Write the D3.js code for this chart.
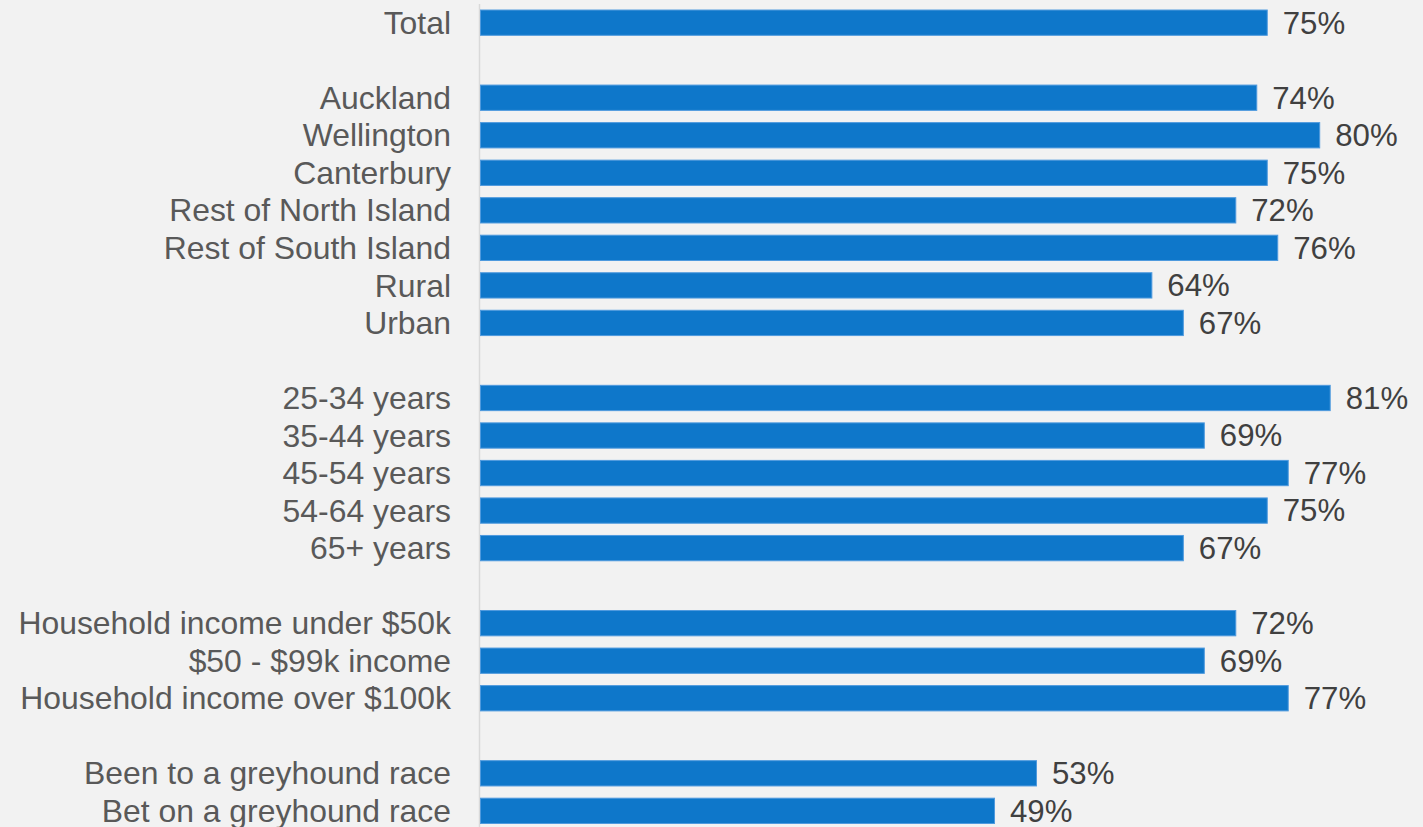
<!DOCTYPE html>
<html>
	<head>
		<title>Horizontal bars</title>
		<style>
			body, html {
				margin: 0;
				padding: 0;
				background: #f2f2f2;
			}
			svg text {
				font-family: "Liberation Sans", Arial, sans-serif;
			}
		</style>
	</head>
	<body>

		<svg id="svg" width="1423" height="827"></svg>

		<script src="https://d3js.org/d3.v7.min.js"></script>
		<script>
			// Row labels, empty string = spacer row between groups
			const labels = [
				'Total', '',
				'Auckland', 'Wellington', 'Canterbury', 'Rest of North Island', 'Rest of South Island', 'Rural', 'Urban', '',
				'25-34 years', '35-44 years', '45-54 years', '54-64 years', '65+ years', '',
				'Household income under $50k', '$50 - $99k income', 'Household income over $100k', '',
				'Been to a greyhound race', 'Bet on a greyhound race'
			]

			// Percent values, null for spacers
			const values = [
				75, null,
				74, 80, 75, 72, 76, 64, 67, null,
				81, 69, 77, 75, 67, null,
				72, 69, 77, null,
				53, 49
			]

			const rows = labels.map((label, i) => ({ key: i, label: label, value: values[i] }))
			const bars = rows.filter(d => d.value !== null)

			const svg = d3.select('#svg')

			// Horizontal scale, 0 sits on the axis line
			const xscale = d3.scaleLinear()
				.domain([0, 100])
				.range([480, 1529])

			// One band per row, spacers included
			const pad = 0.326
			const yscale = d3.scaleBand()
				.domain(rows.map(d => d.key))
				.range([3.9, 829.6])
				.paddingInner(pad)
				.paddingOuter(pad / 2)

			// vertical axis line
			svg.append('line')
				.attr('x1', 479.5)
				.attr('x2', 479.5)
				.attr('y1', 4)
				.attr('y2', 827)
				.attr('stroke', '#d9d9d9')
				.attr('stroke-width', 1.5)

			// bars
			svg.selectAll('rect.bar')
				.data(bars)
				.join('rect')
				.attr('class', 'bar')
				.attr('x', xscale(0) + 0.5)
				.attr('y', d => yscale(d.key))
				.attr('width', d => xscale(d.value) - xscale(0))
				.attr('height', yscale.bandwidth())
				.attr('fill', '#0e77ca')
				.attr('stroke', '#4f9ade')
				.attr('stroke-width', 1)

			// category labels
			svg.selectAll('text.label')
				.data(bars)
				.join('text')
				.attr('class', 'label')
				.attr('x', 451)
				.attr('y', d => yscale(d.key) + yscale.bandwidth() / 2)
				.attr('dy', '0.35em')
				.attr('text-anchor', 'end')
				.attr('font-size', 31.9)
				.attr('fill', '#595959')
				.text(d => d.label)

			// value labels
			svg.selectAll('text.value')
				.data(bars)
				.join('text')
				.attr('class', 'value')
				.attr('x', d => xscale(d.value) + 16)
				.attr('y', d => yscale(d.key) + yscale.bandwidth() / 2)
				.attr('dy', '0.35em')
				.attr('font-size', 31.2)
				.attr('fill', '#404040')
				.text(d => d.value + '%')
		</script>
	</body>
</html>
